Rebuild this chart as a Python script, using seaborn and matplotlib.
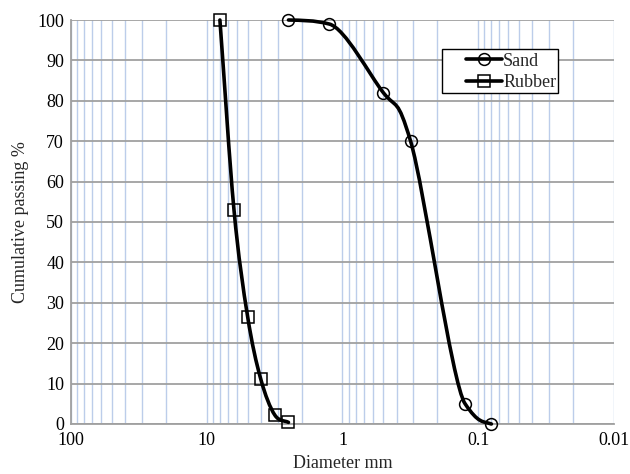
import numpy as np
import pandas as pd
import matplotlib
matplotlib.use("Agg")
import matplotlib.pyplot as plt
from matplotlib.path import Path
from matplotlib.patches import PathPatch, Rectangle
from matplotlib.lines import Line2D
from matplotlib.ticker import FixedLocator, FixedFormatter, LogLocator, NullFormatter
import seaborn as sns

# ---- data ----
sand_size = [2.5, 1.25, 0.5, 0.315, 0.125, 0.08]
sand_pass = [100, 99, 82, 70, 5, 0]
rubber_size = [8, 6.3, 5, 4, 3.15, 2.5]
rubber_pass = [100, 53, 26.6, 11.1, 2.2, 0.4]
x_ticks = [100, 10, 1, 0.1, 0.01]
x_tick_labels = ["100", "10", "1", "0.1", "0.01"]
y_ticks = [0, 10, 20, 30, 40, 50, 60, 70, 80, 90, 100]
series_names = ["Sand", "Rubber"]

sns.set_style("white")
plt.rcParams['font.family'] = ['Liberation Serif', 'DejaVu Serif']

fig = plt.figure(figsize=(6.3, 4.74), dpi=100)
ax = fig.add_axes([0.1127, 0.1055, 0.8619, 0.8523])

ax.set_xscale('log')
ax.set_xlim(100, 0.01)
ax.set_ylim(0, 100)


def monotone_tangents(v):
    v = np.asarray(v, dtype=float)
    n = len(v)
    d = np.diff(v)
    m = np.zeros(n)
    m[0] = d[0]
    m[-1] = d[-1]
    for k in range(1, n - 1):
        if d[k - 1] * d[k] <= 0:
            m[k] = 0.0
        else:
            m[k] = (d[k - 1] + d[k]) / 2.0
    for k in range(n - 1):
        if d[k] == 0:
            m[k] = m[k + 1] = 0.0
            continue
        a = m[k] / d[k]
        b = m[k + 1] / d[k]
        s = a * a + b * b
        if s > 9:
            t = 3.0 / np.sqrt(s)
            m[k] = t * a * d[k]
            m[k + 1] = t * b * d[k]
    return m


def smooth_path(xs, ys):
    lx = np.log10(np.asarray(xs, dtype=float))
    yy = np.asarray(ys, dtype=float)
    mx = monotone_tangents(lx)
    my = monotone_tangents(yy)
    pts = np.column_stack([lx, yy])
    tang = np.column_stack([mx, my])
    verts = [pts[0]]
    codes = [Path.MOVETO]
    for i in range(len(pts) - 1):
        c1 = pts[i] + tang[i] / 3.0
        c2 = pts[i + 1] - tang[i + 1] / 3.0
        verts += [c1, c2, pts[i + 1]]
        codes += [Path.CURVE4] * 3
    verts = np.array(verts)
    verts[:, 0] = 10 ** verts[:, 0]
    return Path(verts, codes)


for xs, ys in [(sand_size, sand_pass), (rubber_size, rubber_pass)]:
    patch = PathPatch(smooth_path(xs, ys), fill=False, lw=2.6, ec='black',
                      capstyle='round', joinstyle='round', zorder=3,
                      transform=ax.transData)
    patch.set_clip_on(False)
    ax.add_patch(patch)

df_s = pd.DataFrame({"size": sand_size, "passing": sand_pass})
df_r = pd.DataFrame({"size": rubber_size, "passing": rubber_pass})
sns.lineplot(data=df_s, x="size", y="passing", ax=ax, estimator=None, sort=False,
             linestyle='', marker='o', markersize=8.5, markerfacecolor='none',
             markeredgecolor='black', markeredgewidth=1.1, color='black', zorder=4,
             clip_on=False)
sns.lineplot(data=df_r, x="size", y="passing", ax=ax, estimator=None, sort=False,
             linestyle='', marker='s', markersize=9, markerfacecolor='none',
             markeredgecolor='black', markeredgewidth=1.1, color='black', zorder=4,
             clip_on=False)

# ticks & grid
ax.xaxis.set_major_locator(FixedLocator(x_ticks))
ax.xaxis.set_major_formatter(FixedFormatter(x_tick_labels))
ax.xaxis.set_minor_locator(LogLocator(base=10, subs=np.arange(2, 10), numticks=20))
ax.xaxis.set_minor_formatter(NullFormatter())
ax.set_yticks(y_ticks)
ax.set_axisbelow(True)
ax.grid(True, which='both', axis='x', color='#bccdea', lw=1.0)
ax.grid(True, which='major', axis='y', color='#a0a0a0', lw=1.3)
ax.tick_params(axis='both', which='both', length=0, labelsize=13, colors='black')
ax.tick_params(axis='x', pad=6)
ax.tick_params(axis='y', pad=5)

for s in ['top', 'right']:
    ax.spines[s].set_visible(False)
for s in ['left', 'bottom']:
    ax.spines[s].set_color('#a0a0a0')
    ax.spines[s].set_linewidth(1.3)

ax.set_xlabel("Diameter mm", fontsize=13, labelpad=4)
ax.set_ylabel("Cumulative passing %", fontsize=13, labelpad=6)

# legend box
box = Rectangle((0.683, 0.819), 0.214, 0.109, transform=ax.transAxes,
                facecolor='white', edgecolor='black', lw=1.0, zorder=5)
ax.add_patch(box)

handles = [
    Line2D([], [], color='black', lw=2.6, marker='o', markersize=8.5,
           markerfacecolor='none', markeredgecolor='black', markeredgewidth=1.1),
    Line2D([], [], color='black', lw=2.6, marker='s', markersize=9,
           markerfacecolor='none', markeredgecolor='black', markeredgewidth=1.1),
]
leg = ax.legend(handles, series_names, loc='upper left',
                bbox_to_anchor=(0.721, 0.928), fontsize=13, frameon=False,
                handlelength=2.0, handletextpad=0.05, borderpad=0.2,
                labelspacing=0.26, borderaxespad=0)
leg.set_zorder(6)

fig.savefig("out.png", dpi=100)
